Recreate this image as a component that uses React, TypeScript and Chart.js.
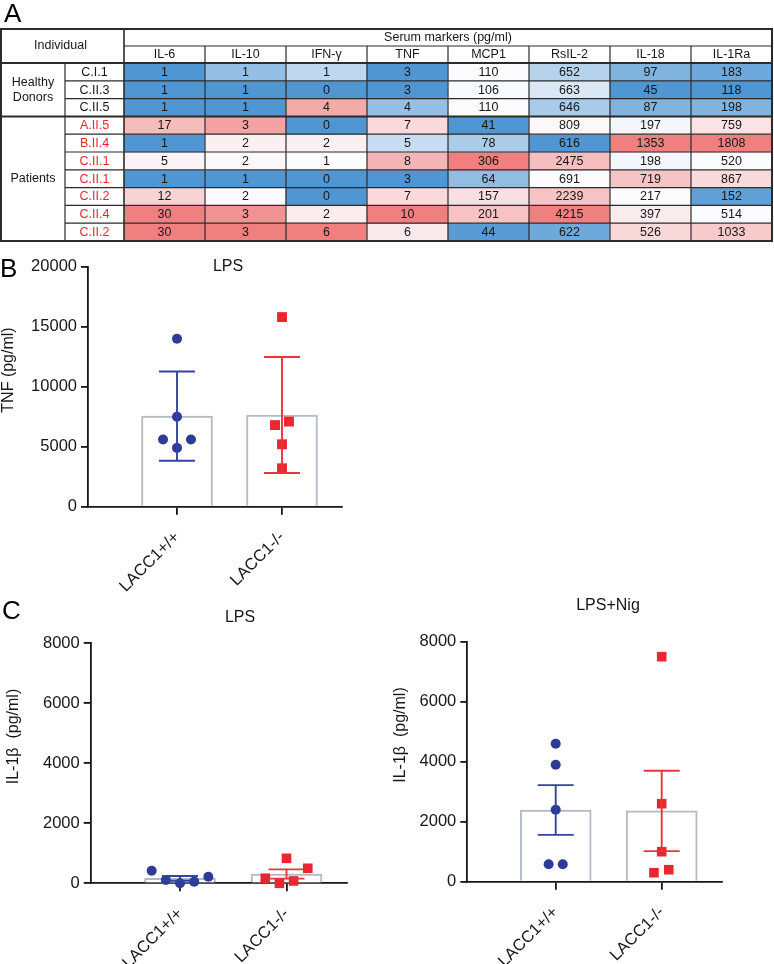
import React, { useEffect, useRef } from "react";
import { Chart, registerables } from "chart.js";

Chart.register(...registerables);

const FONT = '"Liberation Sans", Arial, Helvetica, sans-serif';

// ---------------- Panel A : serum markers table ----------------
const markers = ["IL-6", "IL-10", "IFN-γ", "TNF", "MCP1", "RsIL-2", "IL-18", "IL-1Ra"];
const individuals = ["C.I.1", "C.II.3", "C.II.5", "A.II.5", "B.II.4", "C.II.1", "C.II.1", "C.II.2", "C.II.4", "C.II.2"];
const groupNames = [["Healthy", "Donors"], ["Patients"]];
const groupSizes = [3, 7];

const il6 = [1, 1, 1, 17, 1, 5, 1, 12, 30, 30];
const il10 = [1, 1, 1, 3, 2, 2, 1, 2, 3, 3];
const ifng = [1, 0, 4, 0, 2, 1, 0, 0, 2, 6];
const tnf = [3, 3, 4, 7, 5, 8, 3, 7, 10, 6];
const mcp1 = [110, 106, 110, 41, 78, 306, 64, 157, 201, 44];
const rsil2 = [652, 663, 646, 809, 616, 2475, 691, 2239, 4215, 622];
const il18 = [97, 45, 87, 197, 1353, 198, 719, 217, 397, 526];
const il1ra = [183, 118, 198, 759, 1808, 520, 867, 152, 514, 1033];

// colour-scale position of each cell: -1 = full blue, 0 = white, +1 = full red
const il6Shade = [-1, -1, -1, 0.52, -1, 0.07, -1, 0.33, 1, 1];
const il10Shade = [-0.6, -1, -1, 0.72, 0.1, 0.04, -1, 0, 0.85, 1];
const ifngShade = [-0.35, -1, 0.67, -1, 0.1, 0, -1, -1, 0.12, 1];
const tnfShade = [-1, -1, -0.6, 0.28, -0.3, 0.58, -1, 0.28, 1, 0.15];
const mcp1Shade = [0.01, -0.02, 0.01, -1, -0.47, 1, -0.62, 0.23, 0.47, -0.95];
const rsil2Shade = [-0.4, -0.2, -0.48, 0.03, -1, 0.5, 0.01, 0.45, 1, -0.82];
const il18Shade = [-0.72, -1, -0.72, -0.05, 1, -0.05, 0.45, 0.01, 0.14, 0.29];
const il1raShade = [-0.82, -1, -0.72, 0.2, 1, 0, 0.27, -0.9, -0.01, 0.4];

const markerValues = [il6, il10, ifng, tnf, mcp1, rsil2, il18, il1ra];
const markerShades = [il6Shade, il10Shade, ifngShade, tnfShade, mcp1Shade, rsil2Shade, il18Shade, il1raShade];

// ---------------- Panels B & C : dot + bar plots ----------------
const genotypes = ["LACC1+/+", "LACC1-/-"];

// B: TNF, LPS
const tnfWT = [14000, 7500, 5600, 5600, 4900];
const tnfKO = [15800, 7100, 6800, 5200, 3200];
const tnfWTJitter = [0, 0, -1, 1, 0];
const tnfKOJitter = [0, 0.5, -0.5, 0, 0];
const tnfMean = [7550, 7640];
const tnfSD = [3720, 4830];

// C left: IL-1β, LPS
const il1bLpsWT = [420, 110, 0, 55, 220];
const il1bLpsKO = [167, 0, 833, 78, 500];
const il1bLpsWTJitter = [-2, -1, 0, 1, 2];
const il1bLpsKOJitter = [-1.5, -0.5, 0, 0.5, 1.5];
const il1bLpsMean = [165, 310];
const il1bLpsSEM = [78, 155];

// C right: IL-1β, LPS+Nig
const il1bNigWT = [4600, 3900, 2400, 580, 580];
const il1bNigKO = [7500, 2600, 1000, 300, 400];
const il1bNigWTJitter = [0, 0, 0, -0.5, 0.5];
const il1bNigKOJitter = [0, 0, 0, -0.55, 0.5];
const il1bNigMean = [2390, 2360];
const il1bNigSEM = [830, 1340];

// ---------------- styles ----------------
const INK = "#161616";
const GRID = "#2b2b2b";
const NAVY = "#2d3a96";
const NAVY_LINE = "#3343a2";
const RED = "#e8282e";
const RED_LINE = "#e8363c";
const BAR_EDGE = "#b2b9c7";
const JITTER_STEP = 0.133;

function shadeColor(t: number): string {
  const W = [252, 252, 254];
  const B = [80, 150, 210];
  const R = [240, 128, 128];
  const E = t < 0 ? B : R;
  const a = Math.min(1, Math.abs(t));
  return `rgb(${W.map((w, i) => Math.round(w + (E[i] - w) * a)).join(",")})`;
}

function tableConfig(): any {
  const HEAD_ROW = 17;
  const TABLE_LEFT = 1;
  const ID_LEFT = 65;
  const tablePlugin = {
    id: "tableText",
    afterDatasetsDraw(chart: any) {
      const { ctx, chartArea: a } = chart;
      const x = chart.scales.x;
      const y = chart.scales.y;
      const colW = (a.right - a.left) / markers.length;
      const headTop = a.top - 2 * HEAD_ROW;
      const headMid = a.top - HEAD_ROW;
      ctx.save();
      ctx.textAlign = "center";
      ctx.textBaseline = "middle";
      ctx.font = `12.5px ${FONT}`;
      ctx.fillStyle = INK;

      // values
      markerValues.forEach((vals, c) => {
        const cx = x.getPixelForValue(c);
        vals.forEach((v, r) => {
          const cy = (y.getPixelForValue(r) + y.getPixelForValue(r + 1)) / 2;
          ctx.fillText(String(v), cx, cy + 0.5);
        });
        ctx.fillText(markers[c], cx, (headMid + a.top) / 2 + 0.5);
      });

      // headers
      ctx.fillText("Serum markers (pg/ml)", (a.left + a.right) / 2, (headTop + headMid) / 2 + 0.5);
      ctx.fillText("Individual", (TABLE_LEFT + a.left) / 2 - 2, (headTop + a.top) / 2);

      // ids
      const idX = (ID_LEFT + a.left) / 2;
      individuals.forEach((id, r) => {
        const cy = (y.getPixelForValue(r) + y.getPixelForValue(r + 1)) / 2;
        ctx.fillStyle = r < groupSizes[0] ? INK : RED;
        ctx.fillText(id, idX, cy + 0.5);
      });

      // groups
      ctx.fillStyle = INK;
      let start = 0;
      groupNames.forEach((lines, g) => {
        const end = start + groupSizes[g];
        const cy = (y.getPixelForValue(start) + y.getPixelForValue(end)) / 2;
        const gx = (TABLE_LEFT + ID_LEFT) / 2;
        lines.forEach((ln, k) => {
          ctx.fillText(ln, gx, cy + (k - (lines.length - 1) / 2) * 15);
        });
        start = end;
      });

      // grid lines
      ctx.strokeStyle = GRID;
      const line = (x1: number, y1: number, x2: number, y2: number, w: number) => {
        ctx.lineWidth = w;
        ctx.beginPath();
        ctx.moveTo(x1, y1);
        ctx.lineTo(x2, y2);
        ctx.stroke();
      };
      for (let r = 1; r < individuals.length; r++) {
        if (r === groupSizes[0]) continue;
        const yy = y.getPixelForValue(r);
        line(ID_LEFT, yy, a.right, yy, 1.2);
      }
      for (let c = 1; c < markers.length; c++) {
        const xx = a.left + c * colW;
        line(xx, headMid, xx, a.bottom, 1.2);
      }
      line(a.left, headMid, a.right, headMid, 1.2);
      line(ID_LEFT, a.top, ID_LEFT, a.bottom, 1.2);
      line(a.left, headTop, a.left, a.bottom, 1.6);
      line(TABLE_LEFT, a.top, a.right, a.top, 2);
      const gy = y.getPixelForValue(groupSizes[0]);
      line(TABLE_LEFT, gy, a.right, gy, 2);
      ctx.lineWidth = 2;
      ctx.strokeRect(TABLE_LEFT, headTop, a.right - TABLE_LEFT, a.bottom - headTop);
      ctx.restore();
    },
  };

  return {
    type: "bar",
    data: {
      labels: markers,
      datasets: individuals.map((id, r) => ({
        label: id,
        data: markers.map(() => 1),
        backgroundColor: markerShades.map((col) => shadeColor(col[r])),
        borderWidth: 0,
        barPercentage: 1,
        categoryPercentage: 1,
        stack: "cells",
      })),
    },
    options: {
      responsive: false,
      animation: false,
      layout: { padding: { left: 124, top: 63, right: 2, bottom: 9 } },
      plugins: { legend: { display: false }, tooltip: { enabled: false } },
      scales: {
        x: { display: false, stacked: true },
        y: { display: false, stacked: true, min: 0, max: individuals.length, reverse: true },
      },
    },
    plugins: [tablePlugin],
  };
}

type DotBarSpec = {
  title: string;
  titlePos: [number, number];
  yTitle: string;
  yTitlePos: [number, number];
  yMax: number;
  yStep: number;
  wt: number[];
  ko: number[];
  wtJitter: number[];
  koJitter: number[];
  means: number[];
  errs: number[];
  xMin: number;
  xMax: number;
  yAxisWidth: number;
  xAxisHeight: number;
  padTop: number;
  padRight: number;
  padBottom: number;
  squareRadius: number;
};

function dotBarConfig(s: DotBarSpec): any {
  const pts = (vals: number[], jit: number[], g: number) =>
    vals.map((v, i) => ({ x: g + jit[i] * JITTER_STEP, y: v }));

  const errorBars = {
    id: "errorBars",
    afterDatasetsDraw(chart: any) {
      const { ctx } = chart;
      const x = chart.scales.x;
      const y = chart.scales.y;
      ctx.save();
      ctx.lineWidth = 1.9;
      s.means.forEach((m, i) => {
        const cx = x.getPixelForValue(i);
        const top = y.getPixelForValue(m + s.errs[i]);
        const bot = y.getPixelForValue(Math.max(0, m - s.errs[i]));
        ctx.strokeStyle = i === 0 ? NAVY_LINE : RED_LINE;
        ctx.beginPath();
        ctx.moveTo(cx, top);
        ctx.lineTo(cx, bot);
        ctx.moveTo(cx - 18, top);
        ctx.lineTo(cx + 18, top);
        ctx.moveTo(cx - 18, bot);
        ctx.lineTo(cx + 18, bot);
        ctx.stroke();
      });
      ctx.restore();
    },
  };

  const texts = {
    id: "panelTexts",
    afterDraw(chart: any) {
      const { ctx } = chart;
      ctx.save();
      ctx.fillStyle = INK;
      ctx.font = `16px ${FONT}`;
      ctx.textAlign = "center";
      ctx.textBaseline = "middle";
      ctx.fillText(s.title, s.titlePos[0], s.titlePos[1]);
      ctx.translate(s.yTitlePos[0], s.yTitlePos[1]);
      ctx.rotate(-Math.PI / 2);
      ctx.fillText(s.yTitle, 0, 0);
      ctx.restore();
    },
  };

  const tickFont = { family: FONT, size: 16.5 };

  return {
    type: "bar",
    data: {
      datasets: [
        {
          type: "bar",
          label: "mean",
          data: s.means.map((m, i) => ({ x: i, y: m })),
          backgroundColor: "#ffffff",
          borderColor: BAR_EDGE,
          borderWidth: 2,
          barThickness: 71,
          order: 3,
        },
        {
          type: "scatter",
          label: genotypes[0],
          data: pts(s.wt, s.wtJitter, 0),
          pointStyle: "circle",
          pointRadius: 5,
          pointBackgroundColor: NAVY,
          pointBorderWidth: 0,
          clip: false,
          order: 1,
        },
        {
          type: "scatter",
          label: genotypes[1],
          data: pts(s.ko, s.koJitter, 1),
          pointStyle: "rect",
          pointRadius: s.squareRadius,
          pointBackgroundColor: RED,
          pointBorderWidth: 0,
          clip: false,
          order: 1,
        },
      ],
    },
    options: {
      responsive: false,
      animation: false,
      layout: { padding: { left: 0, top: s.padTop, right: s.padRight, bottom: s.padBottom } },
      plugins: { legend: { display: false }, tooltip: { enabled: false }, title: { display: false } },
      scales: {
        x: {
          type: "linear",
          min: s.xMin,
          max: s.xMax,
          offset: false,
          afterBuildTicks: (sc: any) => {
            sc.ticks = genotypes.map((_, i) => ({ value: i }));
          },
          afterFit: (sc: any) => {
            sc.height = s.xAxisHeight;
          },
          ticks: {
            autoSkip: false,
            minRotation: 45,
            maxRotation: 45,
            padding: 13,
            color: INK,
            font: tickFont,
            callback: (v: number) => genotypes[Math.round(v)] ?? "",
          },
          grid: { offset: false, drawOnChartArea: false, drawTicks: true, tickLength: 8, color: INK, lineWidth: 1.8 },
          border: { display: true, color: INK, width: 1.8 },
        },
        y: {
          type: "linear",
          min: 0,
          max: s.yMax,
          afterFit: (sc: any) => {
            sc.width = s.yAxisWidth;
          },
          ticks: {
            stepSize: s.yStep,
            padding: 4,
            color: INK,
            font: tickFont,
            callback: (v: number) => String(v),
          },
          grid: { drawOnChartArea: false, drawTicks: true, tickLength: 7, color: INK, lineWidth: 1.8 },
          border: { display: true, color: INK, width: 1.8 },
        },
      },
    },
    plugins: [errorBars, texts],
  };
}

const specB: DotBarSpec = {
  title: "LPS",
  titlePos: [228, 17],
  yTitle: "TNF (pg/ml)",
  yTitlePos: [9, 120],
  yMax: 20000,
  yStep: 5000,
  wt: tnfWT,
  ko: tnfKO,
  wtJitter: tnfWTJitter,
  koJitter: tnfKOJitter,
  means: tnfMean,
  errs: tnfSD,
  xMin: -0.8476,
  xMax: 1.5714,
  yAxisWidth: 88,
  xAxisHeight: 88.3,
  padTop: 16.7,
  padRight: 38,
  padBottom: 0,
  squareRadius: 7,
};

const specCLeft: DotBarSpec = {
  title: "LPS",
  titlePos: [240, 28],
  yTitle: "IL-1β  (pg/ml)",
  yTitlePos: [14, 146.5],
  yMax: 8000,
  yStep: 2000,
  wt: il1bLpsWT,
  ko: il1bLpsKO,
  wtJitter: il1bLpsWTJitter,
  koJitter: il1bLpsKOJitter,
  means: il1bLpsMean,
  errs: il1bLpsSEM,
  xMin: -0.8385,
  xMax: 1.565,
  yAxisWidth: 90.7,
  xAxisHeight: 80.7,
  padTop: 53.3,
  padRight: 33.3,
  padBottom: 0,
  squareRadius: 6.8,
};

const specCRight: DotBarSpec = {
  title: "LPS+Nig",
  titlePos: [218, 16],
  yTitle: "IL-1β  (pg/ml)",
  yTitlePos: [11, 145],
  yMax: 8000,
  yStep: 2000,
  wt: il1bNigWT,
  ko: il1bNigKO,
  wtJitter: il1bNigWTJitter,
  koJitter: il1bNigKOJitter,
  means: il1bNigMean,
  errs: il1bNigSEM,
  xMin: -0.834,
  xMax: 1.566,
  yAxisWidth: 77.3,
  xAxisHeight: 82.3,
  padTop: 51.7,
  padRight: 52.3,
  padBottom: 0,
  squareRadius: 6.8,
};

const letterStyle = (left: number, top: number): React.CSSProperties => ({
  position: "absolute",
  left,
  top,
  fontFamily: FONT,
  fontSize: 26,
  lineHeight: "26px",
  color: "#000",
});

export default function App() {
  const tableRef = useRef<HTMLCanvasElement>(null);
  const bRef = useRef<HTMLCanvasElement>(null);
  const cLeftRef = useRef<HTMLCanvasElement>(null);
  const cRightRef = useRef<HTMLCanvasElement>(null);

  useEffect(() => {
    Chart.defaults.font.family = FONT;
    const charts = [
      new Chart(tableRef.current as HTMLCanvasElement, tableConfig()),
      new Chart(bRef.current as HTMLCanvasElement, dotBarConfig(specB)),
      new Chart(cLeftRef.current as HTMLCanvasElement, dotBarConfig(specCLeft)),
      new Chart(cRightRef.current as HTMLCanvasElement, dotBarConfig(specCRight)),
    ];
    return () => charts.forEach((c) => c.destroy());
  }, []);

  return (
    <div style={{ position: "absolute", left: 0, top: 0, width: 774, height: 964, background: "#fff" }}>
      <canvas ref={tableRef} width={774} height={250} style={{ position: "absolute", left: 0, top: 0 }} />
      <canvas ref={bRef} width={380} height={345} style={{ position: "absolute", left: 0, top: 250 }} />
      <canvas ref={cLeftRef} width={380} height={374} style={{ position: "absolute", left: 0, top: 590 }} />
      <canvas ref={cRightRef} width={384} height={374} style={{ position: "absolute", left: 390, top: 590 }} />
      <div style={letterStyle(4, 0)}>A</div>
      <div style={letterStyle(0, 255)}>B</div>
      <div style={letterStyle(2, 597)}>C</div>
    </div>
  );
}
